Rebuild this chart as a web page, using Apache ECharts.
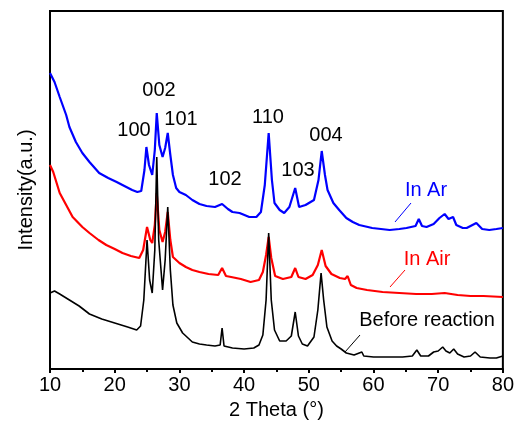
<!DOCTYPE html>
<html>
<head>
<meta charset="utf-8">
<script src="https://cdn.jsdelivr.net/npm/echarts@6/dist/echarts.min.js"></script>
<style>
html,body{margin:0;padding:0;background:#fff;}
#chart{width:517px;height:434px;}
</style>
</head>
<body>
<div id="chart"></div>
<script>
// 2θ (degrees) and intensity (a.u.)
const beforeTheta = [10.0,10.7,11.5,13.0,14.5,16.1,18.0,20.0,22.0,23.4,24.0,24.5,25.0,25.4,25.8,26.2,26.5,26.8,27.4,27.8,28.2,28.6,29.0,29.6,30.5,31.0,32.0,33.1,34.2,35.5,36.3,36.6,36.9,38.2,40.0,41.5,42.3,42.9,43.4,43.8,44.2,44.7,45.5,46.5,47.3,47.9,48.4,49.0,49.8,50.8,51.4,51.9,52.3,52.8,53.6,54.3,54.6,55.0,55.8,57.0,58.2,58.5,60.0,62.0,64.5,66.0,66.7,67.3,68.5,69.3,70.0,70.7,71.2,71.8,72.4,73.0,74.0,75.0,75.7,76.5,78.0,79.0,80.0];
const beforeInt   = [76,78,75,69,63,55,50,46,42,39,43,69,129,89,76,119,212,129,79,109,162,99,64,46,36,33,27,25,24,23,24,41,23,21,20,21,24,34,69,136,69,39,28,28,33,57,33,25,23,32,59,96,69,42,28,23,25,20,16,14,17,13,12,12,12,13,19,13,13,17,18,22,18,16,20,15,12,13,17,12,11,11,13];

const airTheta = [10.0,10.5,11.5,12.5,13.5,15.0,16.1,17.5,18.7,20.0,21.2,22.5,23.8,24.4,25.0,25.5,25.8,26.2,26.5,26.9,27.4,27.8,28.2,28.6,29.0,30.0,31.0,32.0,33.1,34.5,36.0,36.6,37.2,38.0,39.5,41.0,42.3,42.9,43.4,43.8,44.2,44.8,46.0,47.3,47.9,48.4,49.5,50.6,51.4,52.0,52.6,53.5,54.8,55.6,56.0,56.5,57.4,59.0,61.4,64.0,66.6,69.0,71.0,73.0,75.0,77.0,80.0];
const airInt   = [204,197,176,164,152,142,136,129,124,120,116,113,111,119,142,129,126,144,176,139,127,137,157,129,112,106,102,99,97,95,94,101,93,92,90,87,89,97,114,132,111,93,90,92,101,92,90,94,104,119,103,95,91,90,93,84,81,79,77,76,75,75,76,74,73,73,72];

const arTheta = [10.0,10.7,11.5,12.5,13.0,14.0,15.0,16.1,17.6,19.0,20.3,21.5,22.7,23.5,24.1,24.6,24.9,25.3,25.8,26.2,26.5,26.9,27.4,27.8,28.2,28.6,29.0,29.5,30.0,31.0,32.0,33.1,34.2,35.5,36.6,37.5,38.2,39.3,40.8,41.9,42.6,43.2,43.8,44.3,44.7,45.5,46.2,47.0,47.9,48.5,49.5,50.8,51.5,52.0,52.5,52.9,53.8,54.7,55.8,56.8,57.8,59.8,62.5,64.0,65.1,66.5,67.0,67.5,68.2,69.3,70.2,71.0,71.6,72.3,72.8,73.8,74.4,75.9,76.8,77.9,79.0,80.0];
const arInt   = [296,287,272,254,242,227,216,207,196,191,187,183,179,177,178,199,222,204,194,219,256,224,212,221,236,214,194,181,177,174,169,165,163,162,165,160,157,156,152,152,157,184,236,189,166,159,156,162,181,162,164,169,189,218,194,179,166,159,151,147,144,141,139,140,141,143,150,143,142,145,151,155,150,152,144,141,141,146,140,139,140,141];

const xTicks = [10,20,30,40,50,60,70,80];
const peakLabels = ['100','002','101','102','110','103','004'];
const seriesNames = ['In Ar','In Air','Before reaction'];

function pairs(xs, ys){ return xs.map((x,i)=>[x, ys[i]]); }

const FONT = 'Liberation Sans, Arial, sans-serif';
const chart = echarts.init(document.getElementById('chart'), null, {renderer:'canvas'});

const labelPos = [[134,130],[159,90],[181,119],[225,179],[268,117],[298,170],[326,135]];
const graphics = peakLabels.map((t,i)=>({
  type:'text', x:labelPos[i][0], y:labelPos[i][1], z:100,
  style:{text:t, fill:'#000', font:'20px '+FONT, align:'center', verticalAlign:'middle'}
}));
const nameStyles = [
  {pos:[426,190], color:'#0000ff', line:[411,203,395,222]},
  {pos:[427,259], color:'#ff0000', line:[405,270,390,287]},
  {pos:[427,320], color:'#000000', line:[360,335,345,352]}
];
seriesNames.forEach((n,i)=>{
  const s = nameStyles[i];
  graphics.push({type:'text', x:s.pos[0], y:s.pos[1], z:100,
    style:{text:n, fill:s.color, font:'20px '+FONT, align:'center', verticalAlign:'middle'}});
  graphics.push({type:'line', z:100, shape:{x1:s.line[0],y1:s.line[1],x2:s.line[2],y2:s.line[3]},
    style:{stroke:s.color, lineWidth:1}});
});

const option = {
  backgroundColor:'#fff',
  animation:false,
  grid:{left:50, right:14, top:11, bottom:65, show:true, borderColor:'#000', borderWidth:2, backgroundColor:'transparent'},
  xAxis:{
    type:'value', min:10, max:80, interval:10,
    name:'2 Theta (°)', nameLocation:'middle', nameGap:31,
    nameTextStyle:{fontSize:20, fontFamily:FONT, color:'#000'},
    axisLine:{show:true, onZero:false, lineStyle:{color:'#000', width:2}},
    axisTick:{show:true, inside:false, length:4, lineStyle:{color:'#000', width:2}},
    minorTick:{show:true, splitNumber:2, length:3, lineStyle:{color:'#000', width:2}},
    axisLabel:{fontSize:20, fontFamily:FONT, color:'#000', margin:6,
      formatter:v=> xTicks.includes(v) ? String(v) : ''},
    splitLine:{show:false}
  },
  yAxis:{
    type:'value', min:0, max:358,
    name:'Intensity(a.u.)', nameLocation:'middle', nameGap:14, nameRotate:90,
    nameTextStyle:{fontSize:20, fontFamily:FONT, color:'#000'},
    axisLine:{show:true, lineStyle:{color:'#000', width:2}},
    axisTick:{show:false}, axisLabel:{show:false}, splitLine:{show:false}
  },
  series:[
    {name:seriesNames[0], type:'line', data:pairs(arTheta, arInt), showSymbol:false, lineStyle:{color:'#0000ff', width:2.2}, itemStyle:{color:'#0000ff'}},
    {name:seriesNames[1], type:'line', data:pairs(airTheta, airInt), showSymbol:false, lineStyle:{color:'#ff0000', width:2.2}, itemStyle:{color:'#ff0000'}},
    {name:seriesNames[2], type:'line', data:pairs(beforeTheta, beforeInt), showSymbol:false, lineStyle:{color:'#000000', width:1.6}, itemStyle:{color:'#000'}}
  ],
  graphic:graphics
};
chart.setOption(option);
</script>
</body>
</html>
